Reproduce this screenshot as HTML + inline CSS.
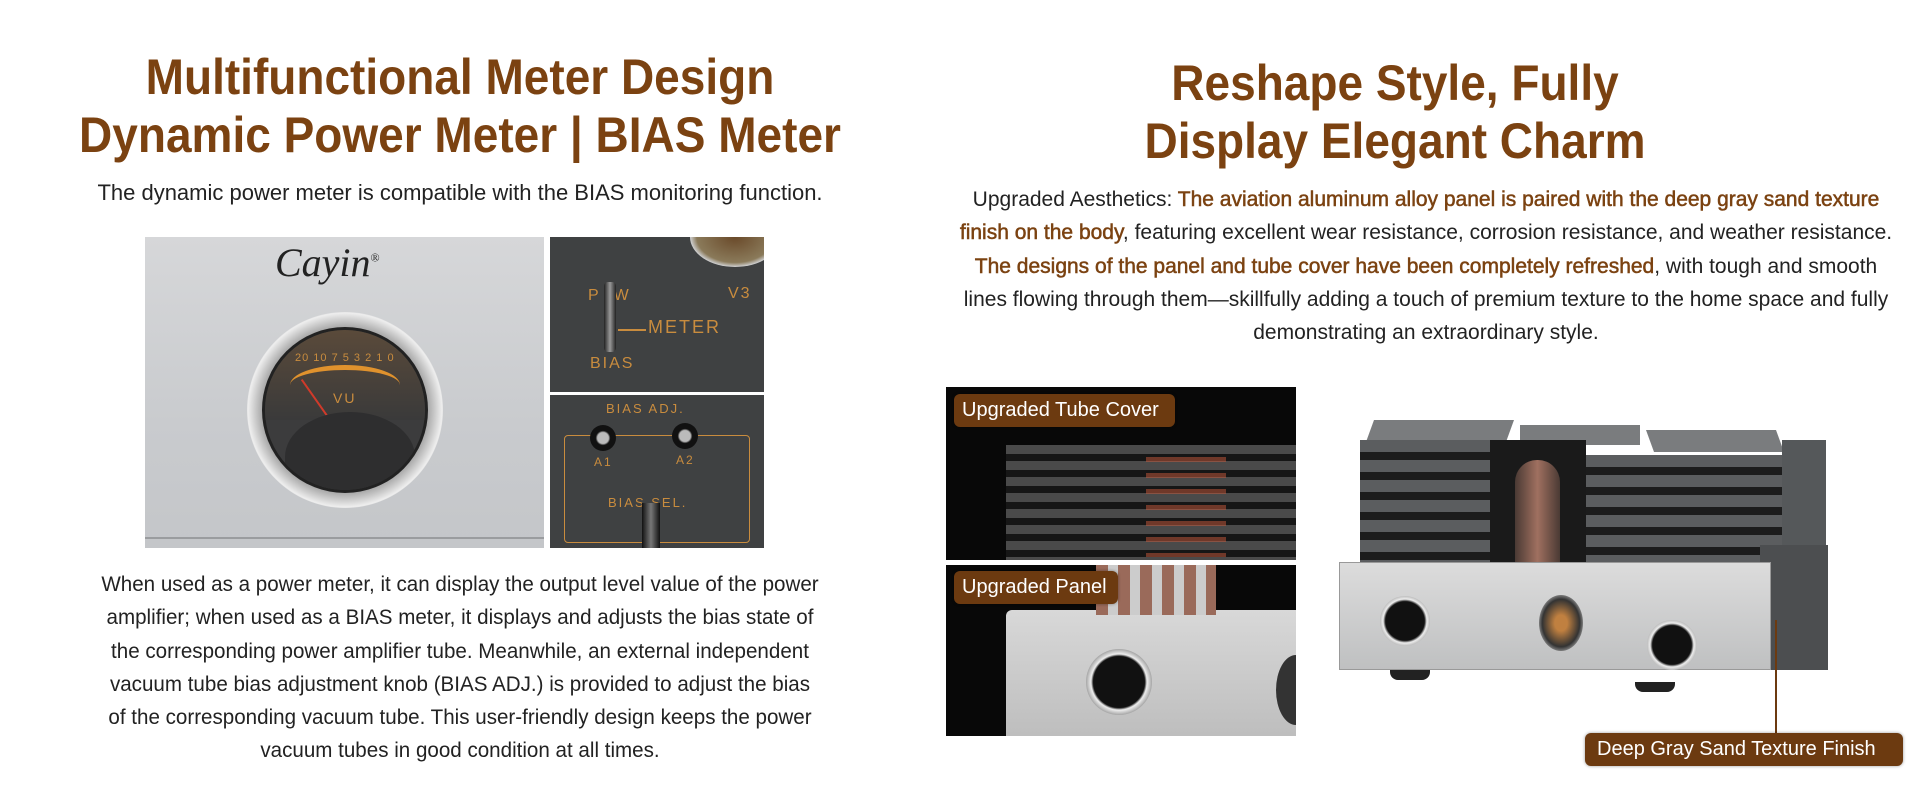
<!DOCTYPE html>
<html><head><meta charset="utf-8"><style>
*{margin:0;padding:0;box-sizing:border-box}
body{width:1928px;height:790px;background:#fff;position:relative;overflow:hidden;font-family:"Liberation Sans",sans-serif}
.a{position:absolute}
.t{position:absolute;text-align:center;color:#7b4211;font-weight:bold;font-size:50px;white-space:nowrap;transform:scaleX(.92);transform-origin:center}
.p{position:absolute;text-align:center;color:#222;font-size:21px;white-space:nowrap;transform:scaleX(.98);transform-origin:center;line-height:33.3px}
.b{color:#7b4211;-webkit-text-stroke:.5px #7b4211}
.lab{position:absolute;background:#6c3a10;color:#fff;font-size:20px;border-radius:6px;padding-left:8px;line-height:33px;white-space:nowrap;box-shadow:0 0 3px rgba(0,0,0,.4)}
.g{font-family:"Liberation Sans",sans-serif;color:#c98c3e;position:absolute;font-size:16px;letter-spacing:2px}
</style></head><body>
<div class="t" style="left:0;width:920px;top:48px">Multifunctional Meter Design</div>
<div class="t" style="left:0;width:920px;top:106px">Dynamic Power Meter | BIAS Meter</div>
<div class="p" style="left:0;width:920px;top:176px;font-size:22px;transform:scaleX(1)">The dynamic power meter is compatible with the BIAS monitoring function.</div>

<!-- left photo -->
<div class="a" style="left:145px;top:237px;width:399px;height:311px;background:linear-gradient(180deg,#d6d7d9,#c9cbce 60%,#c4c6c9);overflow:hidden">
 <div class="a" style="left:0;top:300px;width:399px;height:2px;background:#9a9c9f"></div>
 <div class="a" style="left:130px;top:2px;font-family:'Liberation Serif',serif;font-style:italic;font-size:40px;color:#222">Cayin<sup style="font-size:12px;font-style:normal">®</sup></div>
 <div class="a" style="left:102px;top:75px;width:196px;height:196px;border-radius:50%;background:radial-gradient(circle,#aaa 60%,#eee 70%,#999 76%,#ddd 90%)"></div>
 <div class="a" style="left:117px;top:90px;width:166px;height:166px;border-radius:50%;background:#3c3c3d;overflow:hidden;border:3px solid #222">
  <div class="a" style="left:0;top:0;width:166px;height:90px;background:linear-gradient(#5a4a3a,#3a3a3a)"></div>
  <div class="a" style="left:25px;top:35px;width:110px;height:40px;border-top:5px solid #e0922d;border-radius:50% 50% 0 0"></div>
  <div class="g" style="left:30px;top:22px;font-size:11px;letter-spacing:1px">20 10 7 5 3 2 1 0</div>
  <div class="g" style="left:68px;top:60px;font-size:14px">VU</div>
  <div class="a" style="left:50px;top:45px;width:2px;height:50px;background:#d03a2a;transform:rotate(-35deg)"></div>
  <div class="a" style="left:20px;top:82px;width:130px;height:90px;border-radius:50% 50% 0 0;background:#2e2e2f"></div>
 </div>
</div>
<div class="a" style="left:550px;top:237px;width:214px;height:155px;background:#3f4142;overflow:hidden">
 <div class="a" style="left:140px;top:-30px;width:90px;height:60px;border-radius:50%;background:radial-gradient(#6a4a2a,#8a7a5a 60%,#ccc 70%)"></div>
 <div class="g" style="left:38px;top:50px">P&nbsp;&nbsp;W</div><div class="g" style="left:178px;top:48px">V3</div>
 <div class="a" style="left:54px;top:45px;width:12px;height:70px;background:linear-gradient(90deg,#222,#999,#222);border-radius:4px"></div>
 <div class="a" style="left:68px;top:92px;width:28px;height:2px;background:#c98c3e"></div>
 <div class="g" style="left:98px;top:80px;font-size:18px">METER</div>
 <div class="g" style="left:40px;top:118px">BIAS</div>
</div>
<div class="a" style="left:550px;top:395px;width:214px;height:153px;background:#3f4142;overflow:hidden">
 <div class="g" style="left:56px;top:6px;font-size:13px">BIAS ADJ.</div>
 <div class="a" style="left:14px;top:40px;width:186px;height:108px;border:1.5px solid #c98c3e;border-radius:4px"></div>
 <div class="a" style="left:40px;top:30px;width:26px;height:26px;border-radius:50%;background:radial-gradient(#bbb 30%,#111 40%)"></div>
 <div class="a" style="left:122px;top:28px;width:26px;height:26px;border-radius:50%;background:radial-gradient(#bbb 30%,#111 40%)"></div>
 <div class="g" style="left:44px;top:60px;font-size:12px">A1</div><div class="g" style="left:126px;top:58px;font-size:12px">A2</div>
 <div class="g" style="left:58px;top:100px;font-size:13px">BIAS SEL.</div>
 <div class="a" style="left:92px;top:108px;width:18px;height:45px;background:linear-gradient(90deg,#111,#777,#111)"></div>
</div>

<div class="p" style="left:0;width:920px;top:568px">When used as a power meter, it can display the output level value of the power<br>amplifier; when used as a BIAS meter, it displays and adjusts the bias state of<br>the corresponding power amplifier tube. Meanwhile, an external independent<br>vacuum tube bias adjustment knob (BIAS ADJ.) is provided to adjust the bias<br>of the corresponding vacuum tube. This user-friendly design keeps the power<br>vacuum tubes in good condition at all times.</div>

<!-- right -->
<div class="t" style="left:940px;width:910px;top:54px">Reshape Style, Fully</div>
<div class="t" style="left:940px;width:910px;top:112px">Display Elegant Charm</div>
<div class="p" style="left:926px;width:1000px;top:183px;transform:scaleX(1)">Upgraded Aesthetics: <span class="b">The aviation aluminum alloy panel is paired with the deep gray sand texture</span><br><span class="b">finish on the body</span>, featuring excellent wear resistance, corrosion resistance, and weather resistance.<br><span class="b">The designs of the panel and tube cover have been completely refreshed</span>, with tough and smooth<br>lines flowing through them—skillfully adding a touch of premium texture to the home space and fully<br>demonstrating an extraordinary style.</div>

<div class="a" style="left:946px;top:387px;width:350px;height:173px;background:#080808;overflow:hidden">
 <div class="a" style="left:60px;top:58px;width:290px;height:120px;background:repeating-linear-gradient(180deg,#4a4a4a 0 9px,#161616 9px 16px)"></div>
 <div class="a" style="left:200px;top:70px;width:80px;height:100px;background:repeating-linear-gradient(180deg,rgba(200,90,60,.5) 0 5px,transparent 5px 16px)"></div>
</div>
<div class="lab" style="left:954px;top:394px;width:221px">Upgraded Tube Cover</div>
<div class="a" style="left:946px;top:565px;width:350px;height:171px;background:#080808;overflow:hidden">
 <div class="a" style="left:60px;top:45px;width:290px;height:130px;background:linear-gradient(180deg,#d8d8d8,#bdbdbd);border-radius:6px 0 0 0"></div>
 <div class="a" style="left:150px;top:0;width:120px;height:50px;background:repeating-linear-gradient(90deg,#9a6a5a 0 12px,#ccc 12px 22px)"></div>
 <div class="a" style="left:140px;top:84px;width:66px;height:66px;border-radius:50%;background:radial-gradient(#111 55%,#eee 60%,#888 75%)"></div>
 <div class="a" style="left:330px;top:90px;width:40px;height:70px;border-radius:50%;background:#333"></div>
</div>
<div class="lab" style="left:954px;top:571px;width:164px">Upgraded Panel</div>

<!-- amp -->
<div class="a" style="left:1370px;top:420px;width:140px;height:22px;background:#7a7c7e;transform:skewX(-20deg)"></div>
<div class="a" style="left:1520px;top:425px;width:120px;height:20px;background:#7a7c7e"></div>
<div class="a" style="left:1650px;top:430px;width:130px;height:22px;background:#7a7c7e;transform:skewX(20deg)"></div>
<div class="a" style="left:1782px;top:440px;width:44px;height:140px;background:#55585a"></div>
<div class="a" style="left:1360px;top:440px;width:130px;height:145px;background:repeating-linear-gradient(180deg,#5b5d5f 0 12px,#1c1c1c 12px 20px)"></div>
<div class="a" style="left:1490px;top:440px;width:96px;height:145px;background:#1a1a1a"></div>
<div class="a" style="left:1515px;top:460px;width:45px;height:120px;border-radius:22px 22px 4px 4px;background:linear-gradient(90deg,#4a3a34,#a07060,#4a3a34)"></div>
<div class="a" style="left:1586px;top:455px;width:196px;height:130px;background:repeating-linear-gradient(180deg,#5b5d5f 0 12px,#1c1c1c 12px 20px)"></div>
<div class="a" style="left:1760px;top:545px;width:68px;height:125px;background:#4c4e50"></div>
<div class="a" style="left:1339px;top:562px;width:432px;height:108px;background:linear-gradient(180deg,#dcdcdc,#bfc0c1);border:1px solid #999"></div>
<div class="a" style="left:1380px;top:596px;width:50px;height:50px;border-radius:50%;background:radial-gradient(#111 55%,#eee 62%,#888 80%)"></div>
<div class="a" style="left:1539px;top:595px;width:44px;height:56px;border-radius:50%;background:radial-gradient(#c08040 20%,#333 60%,#999 75%)"></div>
<div class="a" style="left:1647px;top:620px;width:50px;height:50px;border-radius:50%;background:radial-gradient(#111 55%,#eee 62%,#888 80%)"></div>
<div class="a" style="left:1390px;top:670px;width:40px;height:10px;background:#222;border-radius:0 0 8px 8px"></div>
<div class="a" style="left:1635px;top:682px;width:40px;height:10px;background:#222;border-radius:0 0 8px 8px"></div>
<div class="a" style="left:1775px;top:620px;width:2px;height:114px;background:#6c3a10"></div>
<div class="lab" style="left:1585px;top:733px;width:318px;padding-left:12px;font-size:20px">Deep Gray Sand Texture Finish</div>
</body></html>
